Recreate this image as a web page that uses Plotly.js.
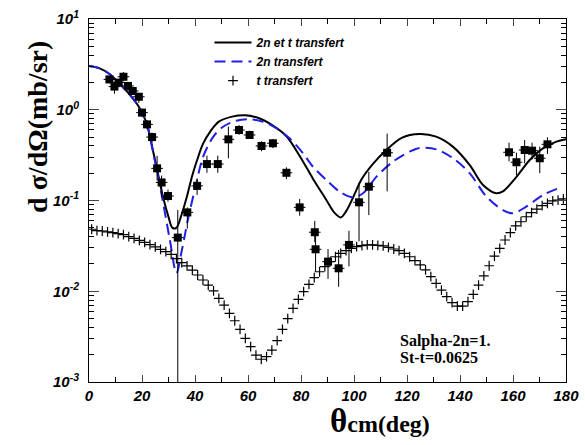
<!DOCTYPE html>
<html>
<head>
<meta charset="utf-8">
<script src="https://cdn.plot.ly/plotly-3.0.1.min.js"></script>
<style>html,body{margin:0;padding:0;background:#fff;}#chart{width:585px;height:445px;}</style>
</head>
<body>
<div id="chart"></div>
<script>
// ---- data ----
const combinedTheta = [0,4,8,11,15,18,20,22,24,26,28,30,31.5,33,35,37,39,41,43,46,49,54,59,64,69,74.5,79.5,84.5,89.5,92.5,95,97,99.6,102.8,107,112,118,124.8,131,137.4,143.7,148.7,153.7,156.2,161.3,166.3,171.3,176.4,180];
const combinedXS = [3.03,2.86,2.45,2.0,1.51,1.17,0.93,0.68,0.37,0.20,0.107,0.066,0.050,0.050,0.071,0.112,0.19,0.29,0.42,0.59,0.74,0.84,0.87,0.81,0.68,0.51,0.31,0.174,0.102,0.074,0.065,0.076,0.107,0.17,0.25,0.355,0.49,0.54,0.505,0.39,0.245,0.148,0.12,0.126,0.182,0.279,0.376,0.445,0.472];

const twoNTheta = [0,4,8,11,15,18,20,22,24.8,27.3,30.5,33,35,37.4,40.5,43,46.8,50.6,55.6,60.6,65.7,70.7,75.7,80.8,84.5,89.6,94.6,99.6,103.4,108.5,114.7,121,124.8,131.1,137.4,143.7,150,156.2,160,165,171.3,177.6];
const twoNXS = [3.03,2.86,2.45,2.0,1.51,1.17,0.93,0.66,0.28,0.12,0.037,0.0158,0.028,0.063,0.155,0.30,0.50,0.65,0.757,0.785,0.738,0.625,0.484,0.33,0.236,0.168,0.125,0.108,0.12,0.183,0.268,0.345,0.38,0.366,0.292,0.199,0.110,0.0785,0.0723,0.0855,0.115,0.138];

const tTheta = [1,3,5,7,9,11,13,15,17,19,21,23,25,27,29,31,33,35,37,39,41,43,45,47,49,51,53,55,57,59,61,63,65,67,69,71,73,75,77,79,81,83,85,87,89,91,93,95,97,99,101,103,105,107,109,111,113,115,117,119,121,123,125,127,129,131,133,135,137,139,141,143,145,147,149,151,153,155,157,159,161,163,165,167,169,171,173,175,177,179];
const tXS = [0.0482,0.0465,0.0461,0.0450,0.0442,0.0431,0.0420,0.0399,0.0383,0.0364,0.0346,0.0326,0.0308,0.0290,0.0273,0.0255,0.0229,0.0207,0.0190,0.0171,0.0151,0.0133,0.0117,0.0101,0.00836,0.00705,0.00571,0.00473,0.00381,0.00303,0.00245,0.00198,0.00178,0.00190,0.00225,0.00285,0.00381,0.00499,0.00649,0.00815,0.00989,0.0119,0.0141,0.0164,0.0187,0.0212,0.0240,0.0262,0.0280,0.0297,0.0310,0.0318,0.0324,0.0324,0.0321,0.0316,0.0305,0.0292,0.0280,0.0262,0.0240,0.0217,0.0195,0.0172,0.0145,0.0122,0.0103,0.00871,0.00748,0.00687,0.00687,0.00767,0.00925,0.0117,0.0148,0.0191,0.0244,0.0297,0.0367,0.0442,0.0525,0.0583,0.0662,0.0735,0.0805,0.0877,0.0931,0.0989,0.101,0.104];

const expTheta = [7.7,9.6,11.2,13.0,14.7,16.5,18.8,20.0,21.9,23.8,25.7,27.4,29.8,33.5,37.1,40.8,44.5,48.6,52.6,56.6,60.6,65.1,69.4,74.5,79.5,85.2,85.5,90.2,94.2,98.1,101.9,105.6,112.5,158.5,161.3,164.4,167.2,170.1,173.0];
const expXS = [2.16,1.80,1.99,2.31,1.83,1.61,1.39,0.93,0.69,0.50,0.226,0.158,0.112,0.039,0.074,0.145,0.252,0.252,0.472,0.598,0.527,0.399,0.427,0.202,0.084,0.0447,0.029,0.0212,0.0179,0.0324,0.0955,0.142,0.336,0.340,0.264,0.360,0.354,0.292,0.416];
const expErrPlus = [0.2,0.25,0.2,0.3,0.15,0.15,0.15,0.1,0.08,0.06,0.085,0.03,0.02,0.0395,0.01,0.03,0.06,0.06,0.18,0.08,0.06,0.05,0.05,0.03,0.02,0.015,0.015,0.008,0.0106,0.014,0.062,0.065,0.21,0.094,0.073,0.104,0.08,0.1,0.081];
const expErrMinus = [0.2,0.3,0.2,0.25,0.15,0.15,0.2,0.1,0.08,0.06,0.06,0.05,0.015,0.0389,0.025,0.03,0.05,0.05,0.18,0.07,0.05,0.05,0.05,0.03,0.016,0.01,0.0126,0.0075,0.0067,0.0136,0.060,0.073,0.21,0.07,0.074,0.104,0.071,0.092,0.091];
const expThetaErr = 2.2;

const xTickVals = [0,20,40,60,80,100,120,140,160,180];
const yTickVals = [0.001,0.01,0.1,1,10];
const yTickText = ['10<sup>-3</sup>','10<sup>-2</sup>','10<sup>-1</sup>','10<sup>0</sup>','10<sup>1</sup>'];
const yMinorVals = [0.002,0.003,0.004,0.005,0.006,0.007,0.008,0.009,0.02,0.03,0.04,0.05,0.06,0.07,0.08,0.09,0.2,0.3,0.4,0.5,0.6,0.7,0.8,0.9,2,3,4,5,6,7,8,9];

const tickFont = {family:'Liberation Sans, Arial, sans-serif', size:15, color:'#000', weight:'bold', style:'italic'};
const serifBold = 'Liberation Serif, Times New Roman, serif';

const traces = [
  {x: combinedTheta, y: combinedXS, name: '2n et t transfert', mode:'lines',
   line:{color:'#000', width:2, shape:'spline', smoothing:0.9}},
  {x: twoNTheta, y: twoNXS, name: '2n transfert', mode:'lines',
   line:{color:'#1f1fe6', width:2, dash:'11px,6px', shape:'spline', smoothing:0.9}},
  {x: tTheta, y: tXS, name: 't transfert', mode:'markers',
   marker:{symbol:'cross-thin', size:7, color:'#000', line:{color:'#000', width:1.2}}},
  {x: expTheta, y: expXS, name:'data', mode:'markers', showlegend:false,
   marker:{symbol:'square', size:8, color:'#000'},
   error_y:{type:'data', symmetric:false, array:expErrPlus, arrayminus:expErrMinus, color:'#000', thickness:1, width:0},
   error_x:{type:'constant', value:expThetaErr, color:'#000', thickness:1, width:0}}
];

const layout = {
  width:585, height:445,
  margin:{l:89, r:19, t:19, b:63},
  paper_bgcolor:'#fff', plot_bgcolor:'#fff',
  showlegend:true,
  legend:{x:0.2526, y:0.975, xanchor:'left', yanchor:'top', bgcolor:'rgba(0,0,0,0)', itemwidth:37,
          font:{family:'Liberation Sans, Arial, sans-serif', size:12, color:'#000', weight:'bold', style:'italic'}},
  xaxis:{range:[0,180], tickmode:'array', tickvals:xTickVals, ticks:'inside', ticklen:7, tickwidth:1,
         showline:true, linecolor:'#000', linewidth:1, mirror:'ticks', showgrid:false, zeroline:false,
         tickfont:tickFont,
         minor:{tickmode:'linear', tick0:0, dtick:10, ticks:'inside', ticklen:5, tickcolor:'#000', showgrid:false}},
  yaxis:{type:'log', range:[-3,1], tickmode:'array', tickvals:yTickVals, ticktext:yTickText,
         ticks:'inside', ticklen:10, tickwidth:1, showline:true, linecolor:'#000', linewidth:1,
         mirror:'ticks', showgrid:false, zeroline:false, tickfont:tickFont, ticklabelstandoff:6,
         minor:{tickmode:'array', tickvals:yMinorVals, ticks:'inside', ticklen:5, tickcolor:'#000', showgrid:false}},
  annotations:[
    {xref:'paper', yref:'paper', x:-0.108, y:0.704, text:'d σ/dΩ(mb/sr)', textangle:-90, showarrow:false,
     xanchor:'center', yanchor:'middle', font:{family:serifBold, size:28, color:'#000', weight:'bold'}},
    {xref:'paper', yref:'paper', x:0.50, y:-0.108, text:'<span style="font-size:33px">θ</span>cm(deg)', showarrow:false,
     xanchor:'left', yanchor:'middle', font:{family:serifBold, size:24, color:'#000', weight:'bold'}},
    {xref:'paper', yref:'paper', x:0.648, y:0.114, text:'Salpha-2n=1.', showarrow:false, xanchor:'left', yanchor:'middle',
     font:{family:serifBold, size:16, color:'#000', weight:'bold'}},
    {xref:'paper', yref:'paper', x:0.648, y:0.067, text:'St-t=0.0625', showarrow:false, xanchor:'left', yanchor:'middle',
     font:{family:serifBold, size:16, color:'#000', weight:'bold'}}
  ]
};

Plotly.newPlot('chart', traces, layout, {displayModeBar:false, staticPlot:true});
</script>
</body>
</html>
